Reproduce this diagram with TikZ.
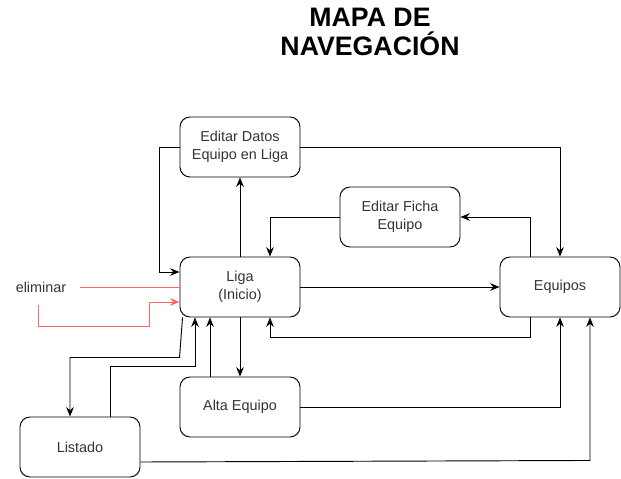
\documentclass[tikz,border=0pt]{standalone}
\usepackage{fontspec}
\setmainfont{Liberation Sans}
\usetikzlibrary{arrows.meta,calc}
\definecolor{rojoclaro}{RGB}{255,102,102}
\tikzset{
	pantalla/.style={draw, rounded corners=0.3cm, minimum width=3.6cm, minimum height=1.8cm, align=center, text=black!80, font=\fontsize{12.3}{15.3}\selectfont, line width=0.8pt},
	flecha/.style={-{Stealth[length=8pt,width=6.5pt]}, line width=0.8pt},
	rojo/.style={draw=rojoclaro, fill=none}
}
\begin{document}
	\begin{tikzpicture}[x=0.03cm, y=-0.03cm]
		\useasboundingbox (0,0) rectangle (621,478);
		\node[align=center, font=\bfseries\fontsize{22.8}{25.5}\selectfont] (titulo) at (370,32) {MAPA DE\\NAVEGACIÓN};
		
		\node[pantalla] (datos) at (240,147) {Editar Datos\\Equipo en Liga};
		\node[pantalla] (ficha) at (400,217) {Editar Ficha\\Equipo};
		\node[pantalla] (liga) at (240,287) {Liga\\(Inicio)};
		\node[pantalla] (equipos) at (560,287) {Equipos};
		\node[pantalla] (alta) at (240,407) {Alta Equipo};
		\node[pantalla] (listado) at (80,447) {Listado};
		\node[inner sep=0pt, text=black!80, font=\fontsize{12.3}{15}\selectfont] (eliminar) at (41,287) {eliminar};
		
		\draw[flecha] (liga) -- (datos);
		\draw[flecha] (datos.west) -- ++(-20,0) |- ($(liga.west)+(0,-15)$);
		\draw[flecha] (datos.east) -| (equipos.north);
		\draw[flecha] (ficha.west) -| ($(liga.north)+(30,0)$);
		\draw[flecha] ($(equipos.north)+(-30,0)$) |- (ficha.east);
		\draw[flecha] (liga) -- (equipos);
		\draw[flecha] ($(equipos.south)+(-30,0)$) -- ++(0,20) -| ($(liga.south)+(30,0)$);
		\draw[flecha] (liga) -- (alta);
		\draw[flecha] ($(alta.north)+(-30,0)$) -- ($(liga.south)+(-30,0)$);
		\draw[flecha] (alta.east) -| (equipos.south);
		\draw[flecha] ($(liga.south west)+(3,0)$) -- ++(-3,40) -| ($(listado.north)+(-10,0)$);
		\draw[flecha] ($(listado.north)+(30,0)$) -- ++(0,-50) -| ($(liga.south)+(-45,0)$);
		\draw[flecha] ($(listado.east)+(0,15)$) -- ($(equipos.south)+(30,143)$) -- ($(equipos.south)+(30,0)$);
		
		\draw[rojo, line width=0.8pt] ($(eliminar.east)+(14,0)$) -- (eliminar.east -| liga.west);
		\draw[rojo, flecha, rojoclaro] ($(eliminar.south)+(-3,12)$) -- ++(0,22) -| ($(liga.west)+(-30,15)$) -- ($(liga.west)+(0,15)$);
	\end{tikzpicture}
\end{document}
